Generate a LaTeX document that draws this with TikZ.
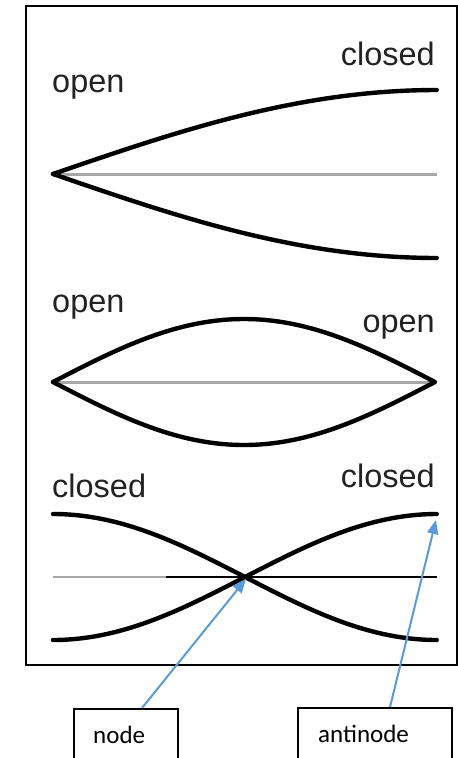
\documentclass[tikz,border=0pt]{standalone}
\usepackage{fontspec}
\setmainfont{Liberation Sans}
\newfontfamily\calib{Carlito}
\usetikzlibrary{arrows.meta}
\definecolor{wavegray}{HTML}{A8A8A8}
\definecolor{labelgray}{HTML}{222222}
\definecolor{callblue}{HTML}{5B9BD5}
\tikzset{
  wave/.style={line width=4.4pt, black, line cap=round},
  axisline/.style={line width=3pt, wavegray},
  thinaxis/.style={line width=1.8pt},
  lbl/.style={font=\fontsize{32.5}{32.5}\selectfont, text=labelgray, inner sep=0pt},
  callbox/.style={draw, line width=2.2pt, minimum height=53pt, inner sep=0pt},
  calltext/.style={font=\calib\fontsize{25}{25}\selectfont, inner sep=0pt},
  callarrow/.style={callblue, line width=2pt, -{Triangle[length=14pt,width=11pt]}}
}
\begin{document}
\begin{tikzpicture}[x=1pt,y=-1pt]
\useasboundingbox (0,0) rectangle (458,758);
% frame
\node[draw, line width=2.2pt, minimum width=431pt, minimum height=659pt, inner sep=0pt, anchor=north west] (frame) at (25,5) {};

% panel 1
\draw[axisline] (53,174) -- (437,174);
\draw[wave] plot[variable=\t, domain=0:1, samples=80, smooth] ({53+384*\t}, {174-84*sin(90*\t)});
\draw[wave] plot[variable=\t, domain=0:1, samples=80, smooth] ({53+384*\t}, {174+84*sin(90*\t)});
\node[lbl, anchor=base west] (p1l) at (52,92) {open};
\node[lbl, anchor=base east] (p1r) at (435,65) {closed};

% panel 2
\draw[axisline] (53,382) -- (435,382);
\draw[wave] plot[variable=\t, domain=0:1, samples=80, smooth] ({53+382*\t}, {382-63*sin(180*\t)});
\draw[wave] plot[variable=\t, domain=0:1, samples=80, smooth] ({53+382*\t}, {382+63*sin(180*\t)});
\node[lbl, anchor=base west] (p2l) at (52,312) {open};
\node[lbl, anchor=base east] (p2r) at (435,332) {open};

% panel 3
\draw[thinaxis, wavegray] (53,577) -- (166,577);
\draw[thinaxis, black] (166,577) -- (437,577);
\draw[wave] plot[variable=\t, domain=0:1, samples=80, smooth] ({53+384*\t}, {577-63*cos(180*\t)});
\draw[wave] plot[variable=\t, domain=0:1, samples=80, smooth] ({53+384*\t}, {577+63*cos(180*\t)});
\node[lbl, anchor=base west] (p3l) at (52,497) {closed};
\node[lbl, anchor=base east] (p3r) at (435,487) {closed};

% callouts
\coordinate (nodept) at (246,579);
\coordinate (antipt) at (436,520);
\node[callbox, minimum width=104pt, anchor=north west] (nodebox) at (73,708) {};
\node[callbox, minimum width=154pt, anchor=north west] (antibox) at (297,707) {};
\node[calltext, anchor=base west] (nodetxt) at (93,743) {node};
\node[calltext, anchor=base west] (antitxt) at (318,742) {antinode};
\draw[callarrow] ([xshift=69pt]nodebox.north west) -- (nodept);
\draw[callarrow] ([xshift=93pt]antibox.north west) -- (antipt);
\end{tikzpicture}
\end{document}
